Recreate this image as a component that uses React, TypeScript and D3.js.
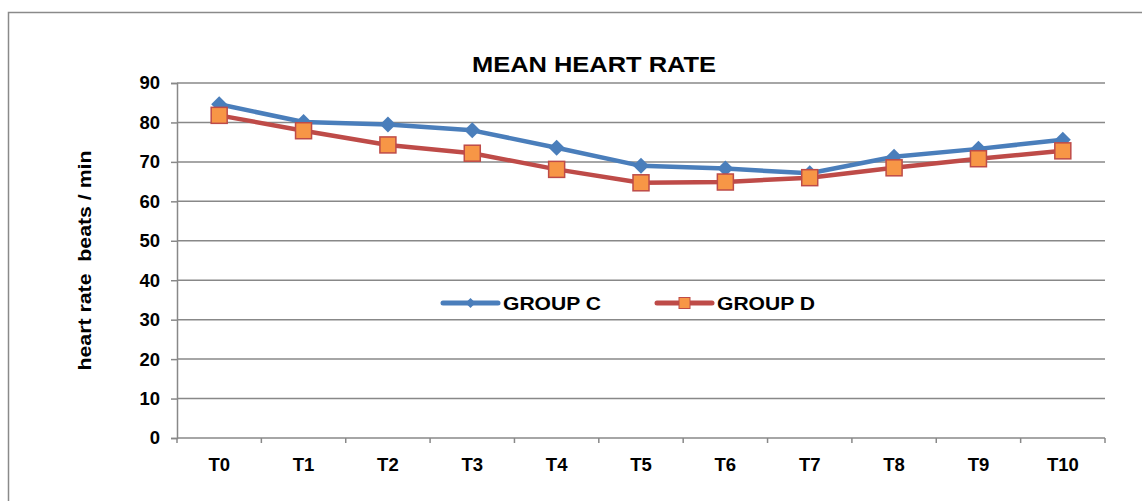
import React, { useEffect, useRef } from "react"
import * as d3 from "d3"

const categories = ["T0", "T1", "T2", "T3", "T4", "T5", "T6", "T7", "T8", "T9", "T10"]
const groupC = [84.6, 80.1, 79.5, 78.0, 73.6, 69.0, 68.3, 67.1, 71.3, 73.3, 75.6]
const groupD = [81.8, 77.9, 74.3, 72.2, 68.1, 64.7, 64.9, 66.0, 68.5, 70.8, 72.8]
const yTicks = [0, 10, 20, 30, 40, 50, 60, 70, 80, 90]

const W = 1142
const H = 501
const FONT = "'Liberation Sans', Arial, sans-serif"

const App = () => {
	const svgRef = useRef<SVGSVGElement>(null)

	useEffect(() => {
		const svg = d3.select(svgRef.current)
		svg.selectAll("*").remove()

		const margin = { top: 83, right: 37, bottom: 63, left: 177 }

		// outer frame of the chart area
		svg.append("rect")
			.attr("x", 8.5)
			.attr("y", 12.5)
			.attr("width", W + 20)
			.attr("height", H + 20)
			.attr("fill", "#fff")
			.attr("stroke", "#8a8a8a")
			.attr("stroke-width", 1.5)

		const x = d3
			.scaleBand()
			.domain(categories)
			.range([margin.left, W - margin.right])
		const y = d3
			.scaleLinear()
			.domain([0, 90])
			.range([H - margin.bottom, margin.top])

		// gridlines
		svg.append("g")
			.selectAll("line")
			.data(yTicks.filter((d) => d > 0))
			.join("line")
			.attr("x1", margin.left)
			.attr("x2", W - margin.right)
			.attr("y1", (d) => y(d))
			.attr("y2", (d) => y(d))
			.attr("stroke", "#888")
			.attr("stroke-width", 1.5)

		// y axis
		const yAxis = svg
			.append("g")
			.attr("transform", `translate(${margin.left},0)`)
			.call(d3.axisLeft(y).tickValues(yTicks).tickSize(6).tickPadding(11))
		yAxis.select(".domain").attr("stroke", "#888").attr("stroke-width", 1.5)
		yAxis.selectAll("line").attr("stroke", "#888").attr("stroke-width", 1.5)
		yAxis.selectAll("text")
			.attr("font-family", FONT)
			.attr("font-weight", "bold")
			.attr("font-size", 18.5)
			.attr("fill", "#000")

		// x axis
		const xAxis = svg
			.append("g")
			.attr("transform", `translate(0,${H - margin.bottom})`)
			.call(d3.axisBottom(x).tickSize(0).tickPadding(20))
		xAxis.select(".domain").remove()
		xAxis.selectAll("text")
			.attr("font-family", FONT)
			.attr("font-weight", "bold")
			.attr("font-size", 18.5)
			.attr("fill", "#000")
		svg.append("line")
			.attr("x1", margin.left)
			.attr("x2", W - margin.right)
			.attr("y1", y(0))
			.attr("y2", y(0))
			.attr("stroke", "#888")
			.attr("stroke-width", 1.5)
		svg.append("g")
			.selectAll("line")
			.data(d3.range(categories.length + 1))
			.join("line")
			.attr("x1", (i) => margin.left + i * x.step())
			.attr("x2", (i) => margin.left + i * x.step())
			.attr("y1", y(0))
			.attr("y2", y(0) + 5)
			.attr("stroke", "#888")
			.attr("stroke-width", 1.5)

		const cx = (i: number) => (x(categories[i]) as number) + x.bandwidth() / 2
		const line = d3
			.line<number>()
			.x((d, i) => cx(i))
			.y((d) => y(d))

		// group C
		svg.append("path")
			.attr("d", line(groupC))
			.attr("fill", "none")
			.attr("stroke", "#4a7ebb")
			.attr("stroke-width", 4.5)
			.attr("stroke-linejoin", "round")
		svg.append("g")
			.selectAll("path")
			.data(groupC)
			.join("path")
			.attr("transform", (d, i) => `translate(${cx(i)},${y(d)})`)
			.attr("d", "M0,-8L8,0L0,8L-8,0Z")
			.attr("fill", "#4a7ebb")

		// group D
		svg.append("path")
			.attr("d", line(groupD))
			.attr("fill", "none")
			.attr("stroke", "#be4b48")
			.attr("stroke-width", 4.5)
			.attr("stroke-linejoin", "round")
		svg.append("g")
			.selectAll("rect")
			.data(groupD)
			.join("rect")
			.attr("x", (d, i) => cx(i) - 8)
			.attr("y", (d) => y(d) - 8)
			.attr("width", 16)
			.attr("height", 16)
			.attr("fill", "#f79646")
			.attr("stroke", "#be4b48")
			.attr("stroke-width", 1.5)

		// title
		svg.append("text")
			.attr("x", 472)
			.attr("y", 72)
			.attr("font-family", FONT)
			.attr("font-weight", "bold")
			.attr("font-size", 22.5)
			.attr("textLength", 244)
			.attr("lengthAdjust", "spacingAndGlyphs")
			.text("MEAN HEART RATE")

		// y axis title
		svg.append("text")
			.attr("transform", `translate(91,${(y(0) + y(90)) / 2}) rotate(-90)`)
			.attr("text-anchor", "middle")
			.attr("font-family", FONT)
			.attr("font-weight", "bold")
			.attr("font-size", 18.5)
			.attr("textLength", 220)
			.attr("lengthAdjust", "spacingAndGlyphs")
			.style("white-space", "pre")
			.text("heart rate  beats / min")

		// legend
		const legend = svg.append("g").attr("transform", "translate(0,303)")
		const items = [
			{ name: "GROUP C", x: 443, color: "#4a7ebb", marker: "diamond" },
			{ name: "GROUP D", x: 657, color: "#be4b48", marker: "square" },
		]
		items.forEach((it) => {
			legend.append("line")
				.attr("x1", it.x)
				.attr("x2", it.x + 55)
				.attr("y1", 0)
				.attr("y2", 0)
				.attr("stroke", it.color)
				.attr("stroke-width", 5)
				.attr("stroke-linecap", "round")
			if (it.marker === "diamond") {
				legend.append("path")
					.attr("transform", `translate(${it.x + 27.5},0)`)
					.attr("d", "M0,-5L5,0L0,5L-5,0Z")
					.attr("fill", it.color)
			} else {
				legend.append("rect")
					.attr("x", it.x + 22)
					.attr("y", -5.5)
					.attr("width", 11)
					.attr("height", 11)
					.attr("fill", "#f79646")
					.attr("stroke", it.color)
					.attr("stroke-width", 1)
			}
			legend.append("text")
				.attr("x", it.x + 60)
				.attr("y", 7)
				.attr("font-family", FONT)
				.attr("font-weight", "bold")
				.attr("font-size", 18.5)
				.attr("textLength", 98)
				.attr("lengthAdjust", "spacingAndGlyphs")
				.text(it.name)
		})
	}, [])

	return (
		<svg
			ref={svgRef}
			width={W}
			height={H}
			style={{ position: "absolute", left: 0, top: 0, background: "#fff" }}
		/>
	)
}

export default App
